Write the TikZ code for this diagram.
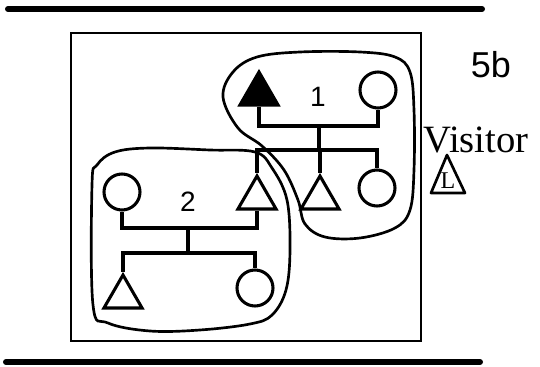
\documentclass[tikz,border=0pt]{standalone}
\usepackage{fontspec}
\setmainfont{Liberation Serif}
\newfontfamily\sansf{Liberation Sans}
\usetikzlibrary{shapes.geometric}
\begin{document}
\begin{tikzpicture}[x=0.75pt,y=-0.75pt,
  lw/.style={line width=2.3pt},
  circ/.style={circle,draw,line width=2.3pt,minimum size=27pt,inner sep=0pt},
  tri/.style={regular polygon,regular polygon sides=3,draw,line width=2.3pt,minimum size=33pt,inner sep=0pt},
  outline/.style={line width=2pt},
  digit/.style={font=\sansf\fontsize{21}{21}\selectfont,inner sep=0pt}]
\useasboundingbox (0,0) rectangle (540,367);
% rules
\draw[line width=4.5pt,line cap=round] (8,9) -- (482,9);
\draw[line width=4.5pt,line cap=round] (6,362) -- (480,362);
\draw[line width=2pt] (71,33) rectangle (421,341);
% group 1
\node[tri,fill=black] (T1f) at (259,94) {};
\node[circ] (C1a) at (378,90) {};
\node[digit] (n1) at (318,97) {1};
\node[tri] (Ts) at (257,198) {};
\node[tri] (T1m) at (320,198) {};
\node[circ] (C1b) at (377,188) {};
\coordinate (j1a) at (319,126);
\coordinate (j1b) at (319,150);
\draw[lw] (T1f.south) |- (j1a) -| (C1a.south);
\draw[lw] (j1a) -- (j1b);
\draw[lw] (Ts.north) |- (j1b) -| (C1b.north);
\draw[lw] (T1m.north) -- (T1m.north |- j1b);
% group 2
\node[circ] (C2a) at (122,192) {};
\node[digit] (n2) at (188,202) {2};
\node[tri] (T2b) at (123,297) {};
\node[circ] (C2b) at (255,288) {};
\coordinate (j2a) at (188,228);
\coordinate (j2b) at (188,253);
\draw[lw] (C2a.south) |- (j2a) -| (Ts.south);
\draw[lw] (j2a) -- (j2b);
\draw[lw] (T2b.north) |- (j2b) -| (C2b.north);
% outlines
\draw[outline] plot[smooth cycle,tension=0.6] coordinates {
  (223,97) (233,72) (257,57) (300,52) (360,52) (395,57) (410,72) (414,110)
  (414,170) (410,210) (395,228) (360,238) (325,237) (305,224) (298,200)
  (284,170) (262,146) (238,128)};
\draw[outline] plot[smooth cycle,tension=0.6] coordinates {
  (92,185) (97,165) (115,152) (150,148) (210,150) (255,152) (272,168)
  (287,200) (290,250) (286,290) (272,315) (250,324) (200,330) (150,331)
  (108,323) (93,305)};
% legend
\node[font=\sansf\fontsize{27}{27}\selectfont,inner sep=0pt] (lab) at (491,65) {5b};
\node[font=\fontsize{29}{29}\selectfont,inner sep=0pt] (vis) at (476,140) {Visitor};
\node[font=\fontsize{18}{18}\selectfont,inner sep=0pt] (Lt) at (448,181) {L};
\draw[line width=2pt,line join=round] (447,155) -- (465,193) -- (431,193) -- cycle;
\end{tikzpicture}
\end{document}
